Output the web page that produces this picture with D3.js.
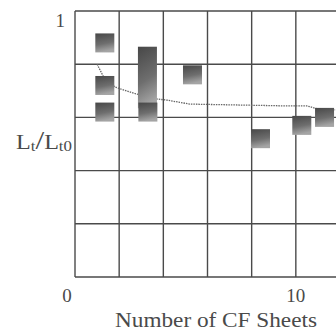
<!DOCTYPE html>
<html>
<head>
<meta charset="utf-8">
<script src="https://cdn.jsdelivr.net/npm/d3@7"></script>
<style>
  body { margin: 0; background: #fff; }
  text { font-family: "Liberation Serif", "DejaVu Serif", serif; fill: #4a4a4a; }
</style>
</head>
<body>
<div id="wrapper"></div>
<script>
// measured markers (range boxes: high/low of L_t/L_t0)
const cfSheets = [1.35, 1.35, 1.35, 3.28, 3.3, 5.32, 8.4, 10.27, 11.3]
const ratioHigh = [0.88, 0.72, 0.62, 0.83, 0.62, 0.76, 0.52, 0.57, 0.60]
const ratioLow = [0.88, 0.72, 0.62, 0.67, 0.62, 0.76, 0.52, 0.57, 0.60]

// dotted trend line
const trendX = [1.0, 1.27, 1.81, 2.7, 3.62, 4.16, 5.2, 7.15, 9.7, 10.5, 11.0, 11.8]
const trendY = [0.80, 0.756, 0.714, 0.69, 0.67, 0.665, 0.65, 0.647, 0.643, 0.643, 0.632, 0.628]

const xTicks = [0, 10]
const xGrid = [0, 2, 4, 6, 8, 10, 12]
const yGrid = [0, 0.2, 0.4, 0.6, 0.8, 1]

const width = 336
let dimensions = {
    width: width,
    height: 333,
    margin: { top: 11, right: -4, bottom: 56, left: 75 },
}
dimensions.boundedWidth = dimensions.width - dimensions.margin.left - dimensions.margin.right
dimensions.boundedHeight = dimensions.height - dimensions.margin.top - dimensions.margin.bottom

const wrapper = d3.select("#wrapper")
    .append("svg")
    .attr("width", dimensions.width)
    .attr("height", dimensions.height)

const defs = wrapper.append("defs")
const grad = defs.append("linearGradient")
    .attr("id", "boxFill")
    .attr("x1", 0).attr("y1", 0).attr("x2", 0.2).attr("y2", 1)
grad.append("stop").attr("offset", "0%").attr("stop-color", "#474747")
grad.append("stop").attr("offset", "60%").attr("stop-color", "#6e6e6e")
grad.append("stop").attr("offset", "100%").attr("stop-color", "#a4a4a4")

const bounds = wrapper.append("g")
    .attr("transform", `translate(${dimensions.margin.left},${dimensions.margin.top})`)

const xScaler = d3.scaleLinear()
    .domain([0, 12])
    .range([0, dimensions.boundedWidth])

const yScaler = d3.scaleLinear()
    .domain([0, 1])
    .range([dimensions.boundedHeight, 0])

// grid
bounds.append("g")
    .selectAll("line")
    .data(xGrid)
    .enter()
    .append("line")
    .attr("x1", d => xScaler(d)).attr("x2", d => xScaler(d))
    .attr("y1", 0).attr("y2", dimensions.boundedHeight)
    .attr("stroke", "#4a4a4a")
    .attr("stroke-width", 1.4)

bounds.append("g")
    .selectAll("line")
    .data(yGrid)
    .enter()
    .append("line")
    .attr("x1", 0).attr("x2", xScaler(12))
    .attr("y1", d => yScaler(d)).attr("y2", d => yScaler(d))
    .attr("stroke", "#4a4a4a")
    .attr("stroke-width", 1.4)

// trend line
const line = d3.line()
    .x(d => xScaler(d[0]))
    .y(d => yScaler(d[1]))

bounds.append("path")
    .datum(trendX.map((x, i) => [x, trendY[i]]))
    .attr("d", line)
    .attr("fill", "none")
    .attr("stroke", "#666")
    .attr("stroke-width", 1.3)
    .attr("stroke-dasharray", "1.5,1")

// boxes
const half = 9.5
bounds.append("g")
    .selectAll("rect")
    .data(cfSheets)
    .enter()
    .append("rect")
    .attr("x", d => xScaler(d) - half)
    .attr("y", (d, i) => yScaler(ratioHigh[i]) - half)
    .attr("width", half * 2)
    .attr("height", (d, i) => yScaler(ratioLow[i]) - yScaler(ratioHigh[i]) + half * 2)
    .attr("fill", "url(#boxFill)")

// tick labels
bounds.append("g")
    .selectAll("text")
    .data(xTicks)
    .enter()
    .append("text")
    .attr("x", d => xScaler(d) - (d === 0 ? 8 : 0))
    .attr("y", dimensions.boundedHeight + 25)
    .attr("text-anchor", "middle")
    .attr("font-size", "19px")
    .text(d => d)

bounds.append("text")
    .attr("x", -10)
    .attr("y", yScaler(1) + 16)
    .attr("text-anchor", "end")
    .attr("font-size", "19px")
    .text("1")

const xLabel = bounds.append("text")
    .attr("x", 40)
    .attr("y", dimensions.boundedHeight + 50)
    .attr("font-size", "20px")
    .attr("textLength", 202)
    .attr("lengthAdjust", "spacingAndGlyphs")
    .text("Number of CF Sheets")

const yLabel = wrapper.append("text")
    .attr("x", 16)
    .attr("y", 149)
    .attr("font-size", "20px")
    .attr("textLength", 56)
    .attr("lengthAdjust", "spacingAndGlyphs")
yLabel.append("tspan").text("L")
yLabel.append("tspan").attr("font-size", "14px").attr("dy", 2).text("t")
yLabel.append("tspan").attr("font-size", "26px").attr("dy", -2).text("/")
yLabel.append("tspan").text("L")
yLabel.append("tspan").attr("font-size", "14px").attr("dy", 2).text("t0")
</script>
</body>
</html>
